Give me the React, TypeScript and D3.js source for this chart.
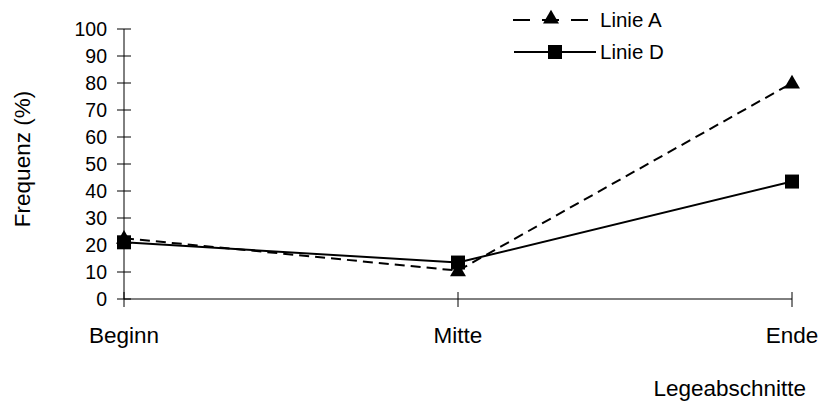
import React from "react";
import * as d3 from "d3";

const categories = ["Beginn", "Mitte", "Ende"];
const lineA = [22.5, 10.5, 80];
const lineD = [21, 13.5, 43.5];
const yTicks = [0, 10, 20, 30, 40, 50, 60, 70, 80, 90, 100];
const seriesNames = ["Linie A", "Linie D"];

export default function App() {
  const W = 823, H = 406;
  const x = d3.scalePoint<string>().domain(categories).range([124, 792]);
  const y = d3.scaleLinear().domain([0, 100]).range([299, 29]);
  const line = d3.line<number>().x((_, i) => x(categories[i]) as number).y((d) => y(d));
  const font = "Arial, 'Liberation Sans', sans-serif";
  const tri = d3.symbol().type(d3.symbolTriangle).size(110)();
  const sq = (cx: number, cy: number, key: string) => (
    <rect key={key} x={cx - 7} y={cy - 7} width={14} height={14} fill="#000" />
  );
  return (
    <svg width={W} height={H} style={{ position: "absolute", left: 0, top: 0 }} fontFamily={font}>
      <rect width={W} height={H} fill="#fff" />
      {/* axes */}
      <line x1={124} x2={124} y1={29} y2={299} stroke="#000" strokeWidth={1} />
      <line x1={124} x2={792} y1={299} y2={299} stroke="#000" strokeWidth={1} />
      {yTicks.map((t) => (
        <g key={t}>
          <line x1={117} x2={131} y1={y(t)} y2={y(t)} stroke="#000" />
          <text x={107} y={y(t)} dy="0.36em" textAnchor="end" fontSize={19.5}>{t}</text>
        </g>
      ))}
      {categories.map((c) => (
        <g key={c}>
          <line x1={x(c)} x2={x(c)} y1={292} y2={307} stroke="#000" />
          <text x={x(c)} y={343} textAnchor="middle" fontSize={22.5}>{c}</text>
        </g>
      ))}
      <text transform="translate(30,159) rotate(-90)" textAnchor="middle" fontSize={22.5}>Frequenz (%)</text>
      <text x={806} y={396} textAnchor="end" fontSize={22.5}>Legeabschnitte</text>
      {/* series */}
      <path d={line(lineA) || ""} fill="none" stroke="#000" strokeWidth={2} strokeDasharray="10,6" />
      <path d={line(lineD) || ""} fill="none" stroke="#000" strokeWidth={2} />
      {lineA.map((v, i) => (
        <path key={"a" + i} d={tri || ""} transform={`translate(${x(categories[i])},${y(v) + 1})`} fill="#000" />
      ))}
      {lineD.map((v, i) => sq(x(categories[i]) as number, y(v), "d" + i))}
      {/* legend */}
      <g>
        <line x1={513} x2={588} y1={20} y2={20} stroke="#000" strokeWidth={2} strokeDasharray="17,12" />
        <path d={tri || ""} transform="translate(551,19)" fill="#000" />
        <text x={600} y={20} dy="0.36em" fontSize={20.5}>{seriesNames[0]}</text>
        <line x1={514} x2={596} y1={52} y2={52} stroke="#000" strokeWidth={2} />
        {sq(555, 52, "leg")}
        <text x={600} y={52} dy="0.36em" fontSize={20.5}>{seriesNames[1]}</text>
      </g>
    </svg>
  );
}
